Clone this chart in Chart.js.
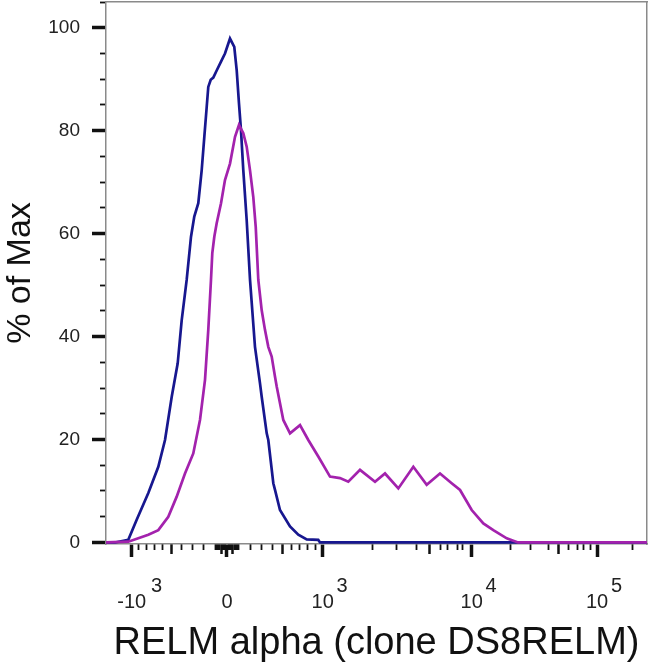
<!DOCTYPE html>
<html>
<head>
<meta charset="utf-8">
<script src="https://cdn.jsdelivr.net/npm/chart.js@4.4.1/dist/chart.umd.min.js"></script>
<style>
  html, body { margin: 0; padding: 0; background: #fff; }
  #wrap { width: 650px; height: 667px; }
</style>
</head>
<body>
<div id="wrap"><canvas id="chart"></canvas></div>
<script>
// x values are display channels (0-1024) of the biexponential axis, y is % of max
const blueX = [0, 17, 42.2, 58.1, 80.1, 99.0, 111.7, 124.4, 135.7, 143.3, 152.7, 160.9, 167.1, 174.7, 181.1,
  186.1, 190.6, 193.6, 198.2, 203.1, 209.5, 217.7, 225.2, 234.7, 242.8, 247.4, 251.7, 255.5, 259.9, 266.3,
  272.6, 282.0, 291.5, 294.7, 304.2, 307.2, 316.7, 319.9, 329.3, 348.3, 364.0, 379.9, 401.8, 405.1, 1024];
const blueY = [0, 0, 0.5, 4.4, 9.6, 14.7, 19.9, 28.3, 34.8, 43.2, 51.0, 59.4, 63.3, 65.9, 72.3,
  78.8, 84.6, 88.5, 89.9, 90.3, 91.7, 93.4, 95.0, 97.9, 96.3, 91.7, 85.3, 80.1, 72.3, 62.6,
  51.0, 38.0, 30.9, 28.3, 21.2, 19.9, 11.5, 10.2, 6.3, 3.1, 1.5, 0.6, 0.5, 0, 0];

const magentaX = [0, 42.2, 61.1, 80.1, 99.0, 117.9, 133.8, 149.5, 165.2, 177.9, 187.4, 193.6, 198.7, 201.2, 205.0,
  209.5, 217.7, 225.2, 234.7, 244.2, 251.7, 259.9, 266.3, 272.6, 278.8, 283.4, 288.3, 294.7, 300.9, 307.2,
  313.6, 319.9, 323.1, 335.6, 348.3, 367.2, 382.9, 401.8, 424.0, 442.9, 458.6, 480.8, 509.2, 528.1, 553.3,
  581.7, 607.0, 632.2, 654.3, 670.1, 692.2, 714.2, 733.1, 758.5, 770.9, 780, 1024];
const magentaY = [0, 0.15, 0.8, 1.5, 2.4, 5.0, 8.9, 13.4, 17.3, 23.8, 31.6, 41.3, 51.0, 56.2, 59.4,
  62.0, 65.9, 70.4, 73.6, 78.8, 81.1, 79.5, 76.9, 72.3, 67.1, 61.3, 51.0, 45.1, 41.3, 38.0,
  36.1, 32.2, 30.3, 23.8, 21.2, 22.8, 19.9, 16.7, 12.8, 12.5, 11.8, 14.1, 11.8, 13.4, 10.5,
  14.7, 11.2, 13.4, 11.5, 10.2, 6.3, 3.7, 2.4, 0.8, 0.35, 0, 0];

// axis ticks (in channels)
const xMajorTicks = [48.6, 229, 410.2, 692.2, 929.4];
const xMajorLabels = [['         3', '-10'], ['', '0'], ['       3', '10'], ['       4', '10'], ['       5', '10']];
const xMidTicks = [124.7, 217.7, 240.2, 333.3, 611.4, 855.6];
const xMinorTicks = [62.3, 76.1, 91.2, 107.3, 143.5, 163.4, 184.6, 206.5,
  208.8, 211.1, 213.3, 215.6, 220.0, 222.2, 224.5, 226.7,
  231.3, 233.5, 235.8, 238.1, 242.6, 244.9, 247.1, 249.2,
  251.6, 273.5, 294.7, 314.6, 350.7, 366.8, 382.0, 395.8,
  503.5, 550.8, 586.8, 632.2, 647.3, 664.4, 675.7,
  764.7, 802.6, 836.7, 874.5, 891.6, 902.9, 916.2, 996.9];
const yMajorTicks = [0, 20, 40, 60, 80, 100];
const yMinorTicks = [5, 10, 15, 25, 30, 35, 45, 50, 55, 65, 70, 75, 85, 90, 95, 105];

const font = '"Liberation Sans", Arial, sans-serif';
const yMin = -0.3, yMax = 105;
const frameColor = '#8a8a8a';

function fixedTicks(list) {
  return scale => { scale.ticks = list.map(v => ({ value: v })); };
}

function noPadding(s) {
  s.paddingTop = 0; s.paddingBottom = 0; s.paddingLeft = 0; s.paddingRight = 0;
}

function tickAxis(axis, position, list, len, width, range) {
  return {
    axis: axis, type: 'linear', position: position, min: range[0], max: range[1],
    afterBuildTicks: fixedTicks(list),
    afterFit: noPadding,
    grid: { drawOnChartArea: false, drawTicks: true, tickLength: len, tickWidth: width, tickColor: '#111' },
    border: { display: false },
    ticks: { display: false, autoSkip: false }
  };
}

function frameAxis(axis, position, size, range) {
  return {
    axis: axis, type: 'linear', position: position, min: range[0], max: range[1],
    afterFit: s => { noPadding(s); if (axis === 'x') s.height = size; else s.width = size; },
    grid: { drawOnChartArea: false, drawTicks: false },
    border: { display: true, color: frameColor, width: 1.5 },
    ticks: { display: false }
  };
}

new Chart(document.getElementById('chart'), {
  type: 'line',
  data: {
    datasets: [
      {
        label: 'RELM alpha',
        data: magentaX.map((x, i) => ({ x: x, y: magentaY[i] })),
        borderColor: '#a322ad',
        borderWidth: 2.7,
        pointRadius: 0,
        tension: 0,
        fill: false
      },
      {
        label: 'Control',
        data: blueX.map((x, i) => ({ x: x, y: blueY[i] })),
        borderColor: '#17178f',
        borderWidth: 2.7,
        pointRadius: 0,
        tension: 0,
        fill: false
      }
    ]
  },
  options: {
    responsive: true,
    maintainAspectRatio: false,
    animation: false,
    layout: { padding: 0 },
    plugins: { legend: { display: false }, tooltip: { enabled: false } },
    scales: {
      x: {
        type: 'linear', position: 'bottom', min: 0, max: 1024,
        afterBuildTicks: fixedTicks(xMajorTicks),
        afterFit: s => { noPadding(s); s.height = 123; },
        grid: { drawOnChartArea: false, tickLength: 13, tickWidth: 3.5, tickColor: '#111' },
        border: { display: true, color: frameColor, width: 1.5 },
        ticks: {
          autoSkip: false, maxRotation: 0, padding: 22, color: '#222',
          font: { family: font, size: 20, lineHeight: 0.78 },
          callback: (v, i) => xMajorLabels[i]
        },
        title: {
          display: true, text: 'RELM alpha (clone DS8RELM)', color: '#111',
          padding: { top: 0, bottom: 1 }, font: { family: font, size: 38 }
        }
      },
      y: {
        type: 'linear', position: 'left', min: yMin, max: yMax,
        afterBuildTicks: fixedTicks(yMajorTicks),
        afterFit: s => { noPadding(s); s.width = 106; },
        grid: { drawOnChartArea: false, tickLength: 14, tickWidth: 3.5, tickColor: '#111' },
        border: { display: true, color: frameColor, width: 1.5 },
        ticks: { autoSkip: false, padding: 12, color: '#222', font: { family: font, size: 19 } },
        title: {
          display: true, text: '% of Max', color: '#111',
          padding: 0, font: { family: font, size: 34 }
        }
      },
      xMid: tickAxis('x', { y: yMin }, xMidTicks, 10, 2.5, [0, 1024]),
      xMinor: tickAxis('x', { y: yMin }, xMinorTicks, 6, 1.8, [0, 1024]),
      yMinor: tickAxis('y', { x: 0 }, yMinorTicks, 6, 1.8, [yMin, yMax]),
      xTop: frameAxis('x', 'top', 2, [0, 1024]),
      yRight: frameAxis('y', 'right', 3, [yMin, yMax])
    }
  }
});
</script>
</body>
</html>
